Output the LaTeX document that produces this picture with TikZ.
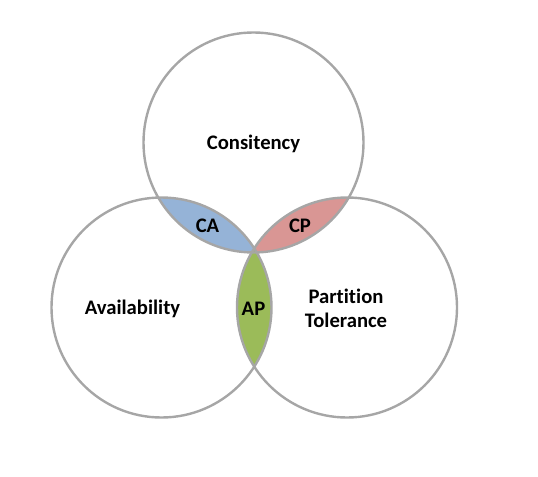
\documentclass[tikz,border=0pt]{standalone}
\usepackage{fontspec}
\setmainfont{Carlito}[Ligatures=NoCommon]
\usepackage{tikz}
\definecolor{ringgray}{RGB}{166,166,166}
\definecolor{cafill}{RGB}{149,179,215}
\definecolor{cpfill}{RGB}{217,150,148}
\definecolor{apfill}{RGB}{155,187,89}
\tikzset{
  setring/.style = {draw=ringgray, line width=1.8pt},
  setlabel/.style = {align=center, inner sep=0pt, font=\fontsize{15.5}{18.2}\selectfont\bfseries},
}

\begin{document}
\begin{tikzpicture}[x=0.75pt, y=-0.75pt]
\useasboundingbox (0,0) rectangle (538,477);
\coordinate (C) at (253.5,142.5);
\coordinate (A) at (161.5,307.5);
\coordinate (P) at (347,307.5);
% lenses
\begin{scope}
  \clip (C) circle [radius=82.5pt];
  \fill[cafill] (A) circle [radius=82.5pt];
  \fill[cpfill] (P) circle [radius=82.5pt];
\end{scope}
\begin{scope}
  \clip (A) circle [radius=82.5pt];
  \fill[apfill] (P) circle [radius=82.5pt];
\end{scope}
% rings
\draw[setring] (C) circle [radius=82.5pt];
\draw[setring] (A) circle [radius=82.5pt];
\draw[setring] (P) circle [radius=82.5pt];
% labels
\node[setlabel] (cons) at (253.5,144) {Consitency};
\node[setlabel] (avail) at (132.5,308.5) {Availability};
\node[setlabel] (part) at (346,308) {Partition\\Tolerance};
\node[setlabel] (ca) at (207.5,226) {CA};
\node[setlabel] (cp) at (300,226) {CP};
\node[setlabel] (ap) at (253.5,308.5) {AP};
\end{tikzpicture}
\end{document}
